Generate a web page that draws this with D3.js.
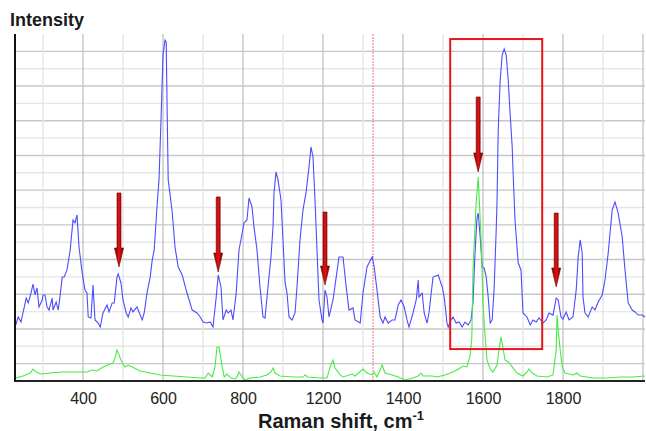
<!DOCTYPE html>
<html>
<head>
<meta charset="utf-8">
<script src="https://cdn.jsdelivr.net/npm/d3@7"></script>
<style>
  body { margin: 0; background: #fff; }
  svg { display: block; font-family: Arial, "Liberation Sans", sans-serif; }
</style>
</head>
<body>
<script>
const width = 646;
const height = 431;

// tick labels exactly as printed (the original skips 1000)
const xTickLabels = [400, 600, 800, 1200, 1400, 1600, 1800];
const xMajorGrid = [400, 600, 800, 1200, 1400, 1600, 1800, 2000];
const xMinorGrid = [300, 500, 700, 1000, 1300, 1500, 1700, 1900];

// blue spectrum (sample)
const blueShift = [
  232, 238, 245, 250, 258, 263, 270, 275, 280, 285,
  290, 298, 300, 305, 310, 315, 323, 325, 333, 338,
  343, 348, 353, 360, 368, 375, 380, 385, 390, 398,
  405, 410, 413, 420, 425, 430, 438, 443, 450, 460,
  465, 473, 478, 485, 488, 495, 500, 508, 513, 520,
  525, 535, 540, 548, 553, 560, 568, 573, 578, 585,
  590, 595, 600, 605, 608, 610, 613, 623, 630, 638,
  648, 660, 673, 685, 693, 700, 710, 718, 725, 733,
  738, 745, 750, 758, 763, 770, 775, 783, 790, 798,
  805, 820, 830, 845, 855, 870, 885, 900, 910, 925,
  940, 950, 955, 965, 975, 990, 1000, 1010, 1020, 1030,
  1045, 1060, 1070, 1085, 1100, 1115, 1130, 1140, 1150, 1160,
  1170, 1180, 1195, 1200, 1205, 1210, 1215, 1225, 1233, 1240,
  1250, 1258, 1265, 1275, 1280, 1293, 1300, 1310, 1315, 1323,
  1328, 1335, 1343, 1350, 1355, 1363, 1373, 1380, 1388, 1395,
  1403, 1410, 1415, 1425, 1433, 1438, 1440, 1448, 1453, 1460,
  1465, 1475, 1488, 1498, 1503, 1510, 1513, 1520, 1525, 1533,
  1540, 1548, 1555, 1563, 1570, 1575, 1580, 1585, 1588, 1593,
  1598, 1603, 1608, 1613, 1618, 1623, 1628, 1633, 1635, 1638,
  1643, 1648, 1653, 1658, 1663, 1668, 1673, 1675, 1680, 1688,
  1695, 1700, 1710, 1718, 1725, 1733, 1740, 1750, 1758, 1765,
  1775, 1783, 1788, 1795, 1800, 1808, 1815, 1825, 1833, 1838,
  1843, 1848, 1850, 1855, 1863, 1873, 1880, 1888, 1898, 1905,
  1913, 1923, 1930, 1938, 1948, 1955, 1963, 1973, 1980, 1988,
  1998, 2005
];
const blueIntensity = [
  3.23, 3.69, 3.40, 3.92, 4.78, 4.50, 5.07, 5.59, 4.96, 5.36,
  4.27, 4.67, 4.96, 4.96, 4.27, 4.09, 4.78, 4.09, 4.55, 4.09,
  4.96, 5.99, 5.99, 6.40, 7.55, 9.28, 9.11, 9.57, 7.72, 6.22,
  5.24, 5.07, 3.69, 3.63, 5.53, 3.52, 3.34, 3.11, 3.92, 4.38,
  3.98, 4.50, 4.50, 5.99, 6.17, 5.65, 4.67, 3.92, 3.69, 4.21,
  3.98, 4.27, 3.98, 3.52, 3.92, 5.07, 5.99, 6.97, 7.55, 10.03,
  11.59, 15.04, 18.79, 19.65, 19.54, 16.20, 11.59, 9.74, 7.72, 6.57,
  6.11, 5.07, 4.09, 3.92, 3.69, 3.40, 3.34, 3.40, 3.11, 4.84,
  6.11, 5.42, 3.52, 4.09, 3.92, 4.09, 3.52, 5.07, 7.55, 8.53,
  9.11, 9.28, 10.55, 10.03, 8.88, 7.55, 5.42, 3.69, 3.63, 5.42,
  7.15, 8.88, 10.84, 12.05, 11.59, 10.43, 8.13, 5.71, 5.07, 3.69,
  3.52, 3.92, 5.42, 8.13, 9.86, 10.84, 12.33, 13.49, 12.91, 10.43,
  7.55, 4.67, 3.52, 3.34, 5.24, 4.84, 3.69, 4.67, 5.99, 7.15,
  7.15, 5.42, 4.09, 4.21, 3.52, 3.34, 5.07, 6.57, 6.80, 7.15,
  6.57, 5.24, 3.69, 3.34, 3.69, 3.34, 3.52, 3.52, 4.38, 4.67,
  4.27, 3.52, 3.11, 3.92, 4.67, 5.82, 4.84, 5.07, 3.92, 3.34,
  3.92, 5.99, 6.11, 5.42, 4.84, 3.34, 3.11, 3.52, 3.69, 3.34,
  3.40, 3.11, 3.40, 3.23, 3.52, 4.50, 7.38, 9.39, 9.68, 8.30,
  6.57, 6.51, 5.99, 4.84, 3.34, 3.52, 5.42, 8.70, 10.26, 14.47,
  17.35, 18.79, 19.14, 18.79, 17.35, 15.33, 13.49, 12.16, 9.28, 6.80,
  6.40, 3.92, 3.69, 3.23, 3.52, 3.40, 3.63, 3.34, 3.52, 3.92,
  3.80, 4.78, 4.67, 3.69, 3.57, 3.98, 3.52, 3.69, 5.24, 7.15,
  8.13, 7.38, 4.84, 3.92, 3.69, 4.27, 4.09, 4.55, 4.96, 5.82,
  7.38, 9.86, 10.32, 9.68, 8.30, 6.40, 4.50, 4.09, 3.98, 3.80,
  3.80, 3.69
];

// green spectrum (reference)
const greenShift = [
  232, 250, 268, 275, 283, 293, 318, 348, 375, 410,
  423, 435, 450, 468, 475, 480, 485, 490, 498, 505,
  513, 523, 543, 568, 593, 625, 660, 693, 705, 713,
  723, 730, 735, 740, 748, 753, 760, 770, 780, 785,
  790, 798, 810, 835, 885, 920, 940, 950, 960, 985,
  1050, 1100, 1110, 1125, 1185, 1210, 1218, 1225, 1230, 1243,
  1250, 1273, 1280, 1300, 1310, 1323, 1328, 1335, 1348, 1355,
  1373, 1388, 1405, 1425, 1438, 1445, 1450, 1473, 1485, 1505,
  1525, 1543, 1550, 1560, 1568, 1572, 1575, 1583, 1588, 1595,
  1600, 1605, 1610, 1618, 1625, 1635, 1640, 1645, 1650, 1655,
  1663, 1673, 1685, 1700, 1710, 1715, 1723, 1735, 1760, 1775,
  1783, 1785, 1788, 1793, 1798, 1805, 1825, 1835, 1843, 1875,
  1910, 1943, 1975, 2005
];
const greenIntensity = [
  0.17, 0.29, 0.46, 0.69, 0.52, 0.40, 0.46, 0.52, 0.52, 0.52,
  0.63, 0.58, 0.81, 0.98, 1.04, 1.33, 1.79, 1.50, 1.04, 0.81,
  0.92, 0.81, 0.58, 0.46, 0.35, 0.29, 0.23, 0.17, 0.17, 0.46,
  0.23, 0.81, 1.96, 1.96, 0.81, 0.23, 0.40, 0.17, 0.12, 0.23,
  0.52, 0.23, 0.06, 0.17, 0.23, 0.35, 0.52, 0.75, 0.46, 0.29,
  0.23, 0.23, 0.35, 0.23, 0.17, 0.17, 0.81, 1.21, 0.75, 0.35,
  0.23, 0.40, 0.29, 0.69, 0.46, 0.35, 0.52, 0.23, 0.92, 0.46,
  0.35, 0.23, 0.06, 0.17, 0.29, 0.46, 0.29, 0.29, 0.23, 0.35,
  0.52, 0.75, 0.86, 0.81, 1.50, 2.50, 6.40, 10.26, 11.76, 8.30,
  4.50, 2.65, 1.21, 0.69, 0.52, 0.92, 1.79, 2.54, 1.90, 1.21,
  1.10, 0.81, 0.46, 0.29, 0.52, 0.69, 0.46, 0.29, 0.23, 0.35,
  1.79, 3.80, 2.94, 1.79, 0.81, 0.46, 0.35, 0.46, 0.29, 0.17,
  0.17, 0.23, 0.23, 0.29
];

// annotations: arrow shift, top and tip intensity
const arrowShift = [490, 738, 1205, 1588, 1783];
const arrowTop = [10.84, 10.61, 9.74, 16.37, 9.68];
const arrowTip = [6.57, 6.28, 5.53, 12.05, 5.42];
const boxShift = [1518, 1748];
const boxIntensity = [1.84, 19.71];
const markerShift = 1325;

const plotTop = 34, plotBottom = 381, plotLeft = 15, plotRight = 645;

const svg = d3.select("body").append("svg")
  .attr("width", width)
  .attr("height", height);

// the axis squeezes 800..1200 into a single grid step, so use a piecewise scale
const x = d3.scaleLinear()
  .domain([230, 800, 1200, 2005])
  .range([plotLeft, 243, 323, plotRight]);

const y = d3.scaleLinear()
  .domain([0, 20])
  .range([plotBottom, plotTop]);

// grid
const grid = svg.append("g");
grid.selectAll(".hgrid")
  .data(d3.range(1, 20))
  .enter()
  .append("line")
    .attr("x1", plotLeft)
    .attr("x2", plotRight)
    .attr("y1", function (d) { return y(d); })
    .attr("y2", function (d) { return y(d); })
    .attr("stroke", function (d) { return d % 2 === 1 ? "#c6c6c6" : "#e6e6e6"; })
    .attr("stroke-width", 1.4);

grid.selectAll(".vminor")
  .data(xMinorGrid)
  .enter()
  .append("line")
    .attr("x1", function (d) { return x(d); })
    .attr("x2", function (d) { return x(d); })
    .attr("y1", plotTop)
    .attr("y2", plotBottom)
    .attr("stroke", "#e6e6e6")
    .attr("stroke-width", 1.4);

grid.selectAll(".vmajor")
  .data(xMajorGrid)
  .enter()
  .append("line")
    .attr("x1", function (d) { return x(d); })
    .attr("x2", function (d) { return x(d); })
    .attr("y1", plotTop)
    .attr("y2", plotBottom)
    .attr("stroke", "#c6c6c6")
    .attr("stroke-width", 1.4);

// dotted marker line
svg.append("line")
  .attr("x1", x(markerShift))
  .attr("x2", x(markerShift))
  .attr("y1", plotTop)
  .attr("y2", plotBottom)
  .attr("stroke", "#f07878")
  .attr("stroke-width", 1)
  .attr("stroke-dasharray", "2,1");

const line = d3.line()
  .x(function (d) { return x(d[0]); })
  .y(function (d) { return y(d[1]); });

svg.append("path")
  .datum(d3.zip(blueShift, blueIntensity))
  .attr("d", line)
  .attr("fill", "none")
  .attr("stroke", "#4c4cff")
  .attr("stroke-width", 1.1);

svg.append("path")
  .datum(d3.zip(greenShift, greenIntensity))
  .attr("d", line)
  .attr("fill", "none")
  .attr("stroke", "#44ec44")
  .attr("stroke-width", 1.1);

// highlight box
svg.append("rect")
  .attr("x", x(boxShift[0]))
  .attr("y", y(boxIntensity[1]))
  .attr("width", x(boxShift[1]) - x(boxShift[0]))
  .attr("height", y(boxIntensity[0]) - y(boxIntensity[1]))
  .attr("fill", "none")
  .attr("stroke", "#e8161c")
  .attr("stroke-width", 2);

// arrows
const defs = svg.append("defs");
const grad = defs.append("linearGradient")
  .attr("id", "arrowFill")
  .attr("x1", 0).attr("x2", 1).attr("y1", 0).attr("y2", 0);
grad.append("stop").attr("offset", "0%").attr("stop-color", "#7a0000");
grad.append("stop").attr("offset", "50%").attr("stop-color", "#e21212");
grad.append("stop").attr("offset", "100%").attr("stop-color", "#7a0000");

svg.selectAll(".arrow")
  .data(d3.range(arrowShift.length))
  .enter()
  .append("path")
    .attr("d", function (i) {
      const cx = x(arrowShift[i]);
      const top = y(arrowTop[i]);
      const tip = y(arrowTip[i]);
      const neck = tip - 19;
      return "M" + (cx - 2) + "," + top +
        "L" + (cx + 2) + "," + top +
        "L" + (cx + 2) + "," + neck +
        "L" + (cx + 4.5) + "," + neck +
        "L" + cx + "," + tip +
        "L" + (cx - 4.5) + "," + neck +
        "L" + (cx - 2) + "," + neck + "Z";
    })
    .attr("fill", "url(#arrowFill)")
    .attr("stroke", "#6a0000")
    .attr("stroke-width", 0.6);

// axes
svg.append("g")
  .attr("transform", "translate(0," + plotBottom + ")")
  .call(d3.axisBottom(x).tickValues(xTickLabels).tickSize(0).tickPadding(12).tickFormat(d3.format("d")))
  .call(function (g) { g.select(".domain").remove(); })
  .selectAll("text")
    .attr("font-size", 16)
    .attr("font-family", "Arial, 'Liberation Sans', sans-serif")
    .attr("fill", "#222");

svg.append("line")
  .attr("x1", plotLeft - 1)
  .attr("x2", plotRight)
  .attr("y1", plotBottom)
  .attr("y2", plotBottom)
  .attr("stroke", "#222")
  .attr("stroke-width", 2);

svg.append("line")
  .attr("x1", plotLeft)
  .attr("x2", plotLeft)
  .attr("y1", plotTop)
  .attr("y2", plotBottom)
  .attr("stroke", "#111")
  .attr("stroke-width", 2);

svg.append("text")
  .attr("x", 10)
  .attr("y", 26)
  .attr("font-size", 18)
  .attr("font-weight", "bold")
  .attr("fill", "#1a1a1a")
  .text("Intensity");

const xTitle = svg.append("text")
  .attr("x", 341)
  .attr("y", 428)
  .attr("text-anchor", "middle")
  .attr("font-size", 20)
  .attr("font-weight", "bold")
  .attr("fill", "#1a1a1a");
xTitle.append("tspan").text("Raman shift, cm");
xTitle.append("tspan")
  .attr("font-size", 13)
  .attr("dy", -8)
  .text("-1");
</script>
</body>
</html>
